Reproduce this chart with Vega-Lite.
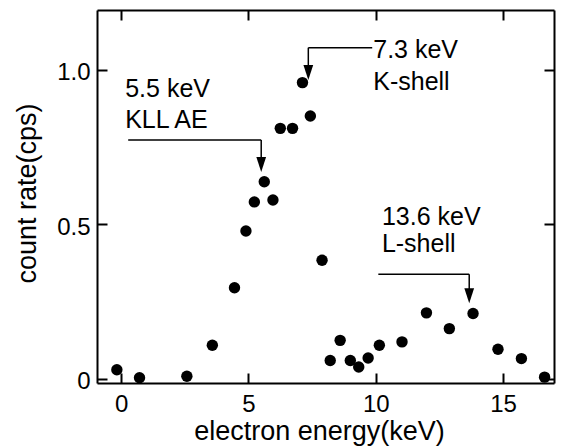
{
  "$schema": "https://vega.github.io/schema/vega-lite/v6.json",
  "width": 457,
  "height": 373,
  "autosize": "none",
  "padding": {"left": 97, "top": 10, "right": 7, "bottom": 63},
  "background": "white",
  "config": {
    "view": {"stroke": null},
    "font": "Liberation Sans",
    "axis": {
      "domainColor": "black",
      "domainWidth": 2,
      "tickColor": "black",
      "tickWidth": 2,
      "tickSize": -10,
      "grid": false,
      "labelColor": "black",
      "labelFont": "Liberation Sans",
      "labelFontSize": 24,
      "titleColor": "black",
      "titleFont": "Liberation Sans",
      "titleFontSize": 27,
      "titleFontWeight": "normal"
    }
  },
  "datasets": {
    "points": [
      {"energy": -0.17, "rate": 0.030},
      {"energy": 0.72, "rate": 0.004},
      {"energy": 2.58, "rate": 0.009},
      {"energy": 3.58, "rate": 0.109},
      {"energy": 4.45, "rate": 0.295},
      {"energy": 4.90, "rate": 0.479},
      {"energy": 5.23, "rate": 0.573},
      {"energy": 5.62, "rate": 0.638},
      {"energy": 5.96, "rate": 0.579},
      {"energy": 6.25, "rate": 0.811},
      {"energy": 6.73, "rate": 0.811},
      {"energy": 7.12, "rate": 0.959},
      {"energy": 7.43, "rate": 0.851},
      {"energy": 7.89, "rate": 0.384},
      {"energy": 8.21, "rate": 0.060},
      {"energy": 8.60, "rate": 0.125},
      {"energy": 9.00, "rate": 0.060},
      {"energy": 9.33, "rate": 0.039},
      {"energy": 9.70, "rate": 0.068},
      {"energy": 10.14, "rate": 0.109},
      {"energy": 11.03, "rate": 0.120},
      {"energy": 11.99, "rate": 0.214},
      {"energy": 12.89, "rate": 0.163},
      {"energy": 13.82, "rate": 0.212},
      {"energy": 14.80, "rate": 0.096},
      {"energy": 15.72, "rate": 0.066},
      {"energy": 16.63, "rate": 0.006}
    ],
    "leaders": [
      {"x1": 0.275, "x2": 5.50, "y1": 0.773, "y2": 0.773},
      {"x1": 5.50, "x2": 5.50, "y1": 0.773, "y2": 0.70},
      {"x1": 7.35, "x2": 9.86, "y1": 1.072, "y2": 1.072},
      {"x1": 7.35, "x2": 7.35, "y1": 1.072, "y2": 1.0},
      {"x1": 10.10, "x2": 13.67, "y1": 0.339, "y2": 0.339},
      {"x1": 13.67, "x2": 13.67, "y1": 0.339, "y2": 0.28}
    ],
    "heads": [
      {"x": 5.50, "y": 0.694},
      {"x": 7.35, "y": 0.992},
      {"x": 13.67, "y": 0.269}
    ],
    "notes": [
      {"label": "5.5 keV", "x": 0.157, "y": 0.912},
      {"label": "KLL AE", "x": 0.157, "y": 0.812},
      {"label": "7.3 keV", "x": 9.90, "y": 1.038},
      {"label": "K-shell", "x": 9.90, "y": 0.935},
      {"label": "13.6 keV", "x": 10.24, "y": 0.497},
      {"label": "L-shell", "x": 10.24, "y": 0.411}
    ]
  },
  "layer": [
    {
      "data": {"name": "points"},
      "mark": {"type": "circle", "size": 130, "color": "black", "opacity": 1},
      "encoding": {
        "x": {
          "field": "energy", "type": "quantitative",
          "scale": {"domain": [-0.95, 17.0], "nice": false, "zero": false},
          "axis": {
            "orient": "bottom", "values": [0, 5, 10, 15], "labelPadding": 19,
            "title": "electron energy(keV)", "titleX": 222, "titleY": 56,
            "titleBaseline": "alphabetic", "titleAlign": "center", "titleAnchor": null
          }
        },
        "y": {
          "field": "rate", "type": "quantitative",
          "scale": {"domain": [-0.013, 1.194], "nice": false, "zero": false},
          "axis": {
            "orient": "left", "values": [0, 0.5, 1.0], "labelExpr": "datum.value == 0 ? '0' : format(datum.value, '.1f')",
            "labelPadding": 17, "labelOffset": 3,
            "title": "count rate(cps)", "titleX": -62, "titleY": 183, "titleAngle": -90,
            "titleBaseline": "alphabetic", "titleAlign": "center"
          }
        }
      }
    },
    {
      "data": {"name": "points"},
      "mark": {"type": "circle", "opacity": 0},
      "encoding": {
        "x": {
          "field": "energy", "type": "quantitative",
          "axis": {"orient": "top", "values": [0, 5, 10, 15], "labels": false, "title": null}
        },
        "y": {
          "field": "rate", "type": "quantitative",
          "axis": {"orient": "right", "values": [0, 0.5, 1.0], "labels": false, "title": null}
        }
      }
    },
    {
      "data": {"name": "leaders"},
      "mark": {"type": "rule", "color": "black", "strokeWidth": 1.5},
      "encoding": {
        "x": {"field": "x1", "type": "quantitative", "axis": null},
        "x2": {"field": "x2"},
        "y": {"field": "y1", "type": "quantitative", "axis": null},
        "y2": {"field": "y2"}
      }
    },
    {
      "data": {"name": "heads"},
      "mark": {"type": "point", "shape": "M-0.65,-1L0.65,-1L0,1Z", "size": 225, "filled": true, "color": "black", "opacity": 1},
      "encoding": {
        "x": {"field": "x", "type": "quantitative", "axis": null},
        "y": {"field": "y", "type": "quantitative", "axis": null}
      }
    },
    {
      "data": {"name": "notes"},
      "mark": {"type": "text", "align": "left", "baseline": "alphabetic", "fontSize": 25, "font": "Liberation Sans", "color": "black"},
      "encoding": {
        "x": {"field": "x", "type": "quantitative", "axis": null},
        "y": {"field": "y", "type": "quantitative", "axis": null},
        "text": {"field": "label"}
      }
    }
  ],
  "resolve": {"axis": {"x": "independent", "y": "independent"}}
}
